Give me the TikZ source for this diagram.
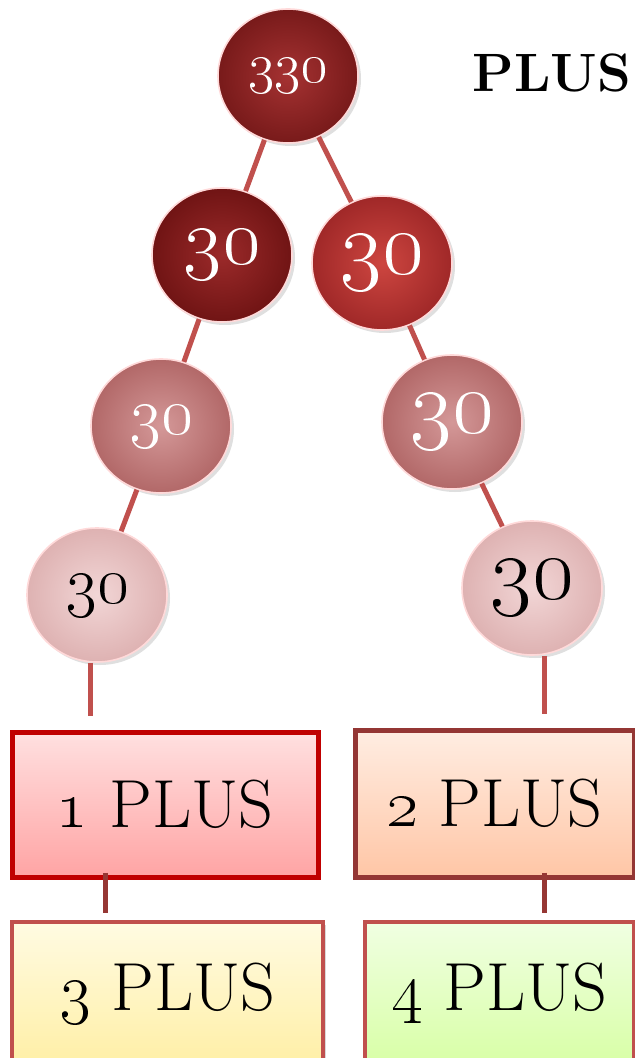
\RequirePackage{fix-cm}
\documentclass[tikz,border=0pt]{standalone}
\usetikzlibrary{shapes.geometric,shadows}
\definecolor{linkred}{RGB}{192,80,77}
\definecolor{linkdark}{RGB}{150,55,52}
\definecolor{edgered}{RGB}{192,0,0}
\definecolor{edgebrown}{RGB}{148,54,52}

\begin{document}
\begin{tikzpicture}[x=0.5pt,y=-0.5pt,
	bead/.style={ellipse, minimum width=70pt, minimum height=67pt, inner sep=0pt, shade, draw=white!85!red, line width=0.8pt, text=white, drop shadow={opacity=0.25, shadow xshift=1.5pt, shadow yshift=-1.5pt}},
	deep/.style={inner color={rgb,255:red,165;green,50;blue,50}, outer color={rgb,255:red,120;green,26;blue,26}},
	deeper/.style={inner color={rgb,255:red,155;green,42;blue,42}, outer color={rgb,255:red,112;green,20;blue,20}},
	bright/.style={inner color={rgb,255:red,205;green,70;blue,64}, outer color={rgb,255:red,160;green,40;blue,40}},
	rose/.style={inner color={rgb,255:red,212;green,152;blue,152}, outer color={rgb,255:red,178;green,104;blue,104}},
	blush/.style={inner color={rgb,255:red,242;green,214;blue,214}, outer color={rgb,255:red,222;green,178;blue,178}, text=black},
	link/.style={line width=2.5pt, draw=linkred},
	boxlink/.style={line width=2.5pt, draw=linkdark},
	card/.style={rectangle, line width=2.5pt, inner sep=0pt, font=\fontsize{34}{40}\selectfont, drop shadow={opacity=0.3, shadow xshift=1.5pt, shadow yshift=-1.5pt}}]
	\useasboundingbox (0,0) rectangle (635,1058);
	\node[bead, deep, font=\fontsize{28}{30}\selectfont] (top) at (288,76) {\oldstylenums{330}};
	\node[bead, deeper, font=\fontsize{41}{44}\selectfont] (l2) at (222,255) {\oldstylenums{30}};
	\node[bead, bright, font=\fontsize{45}{48}\selectfont] (r2) at (382,263) {\oldstylenums{30}};
	\node[bead, rose, font=\fontsize{34}{38}\selectfont] (l3) at (161,426) {\oldstylenums{30}};
	\node[bead, rose, font=\fontsize{45}{48}\selectfont] (r3) at (452,422) {\oldstylenums{30}};
	\node[bead, blush, font=\fontsize{34}{38}\selectfont] (l4) at (97,595) {\oldstylenums{30}};
	\node[bead, blush, font=\fontsize{45}{48}\selectfont] (r4) at (532,588) {\oldstylenums{30}};
	\node[font=\bfseries\fontsize{27}{32}\selectfont] (title) at (552,73) {PLUS};
	\node[card, draw=edgered, minimum width=153pt, minimum height=72.5pt, top color={rgb,255:red,255;green,224;blue,224}, bottom color={rgb,255:red,255;green,164;blue,164}] (b1) at (165,804.5) {\oldstylenums{1} PLUS};
	\node[card, draw=edgebrown, minimum width=139.5pt, minimum height=73.5pt, top color={rgb,255:red,255;green,237;blue,226}, bottom color={rgb,255:red,255;green,198;blue,166}] (b2) at (494.5,803.5) {\oldstylenums{2} PLUS};
	\node[card, draw=linkred, line width=2pt, minimum width=155.5pt, minimum height=71.5pt, top color={rgb,255:red,255;green,251;blue,226}, bottom color={rgb,255:red,255;green,239;blue,166}] (b3) at (167.5,993.5) {\oldstylenums{3} PLUS};
	\node[card, draw=linkred, line width=2pt, minimum width=134.5pt, minimum height=71.5pt, top color={rgb,255:red,240;green,255;blue,226}, bottom color={rgb,255:red,216;green,255;blue,166}] (b4) at (499.5,993.5) {\oldstylenums{4} PLUS};
	\draw[link] (top) -- (l2);
	\draw[link] (top) -- (r2);
	\draw[link] (l2) -- (l3);
	\draw[link] (l3) -- (l4);
	\draw[link] (r2) -- (r3);
	\draw[link] (r3) -- (r4);
	\draw[link, shorten >=7pt] ([xshift=-3.5pt]l4.south) -- ([xshift=-3.5pt]l4.south |- b1.north);
	\draw[link, shorten >=7pt] ([xshift=6pt]r4.south) -- ([xshift=6pt]r4.south |- b2.north);
	\draw[boxlink, shorten >=3.5pt] ([xshift=-30pt,yshift=3.5pt]b1.south) -- ([xshift=-30pt]b1.south |- b3.north);
	\draw[boxlink, shorten >=3.5pt] ([xshift=24.75pt,yshift=3.5pt]b2.south) -- ([xshift=24.75pt]b2.south |- b4.north);
\end{tikzpicture}
\end{document}
